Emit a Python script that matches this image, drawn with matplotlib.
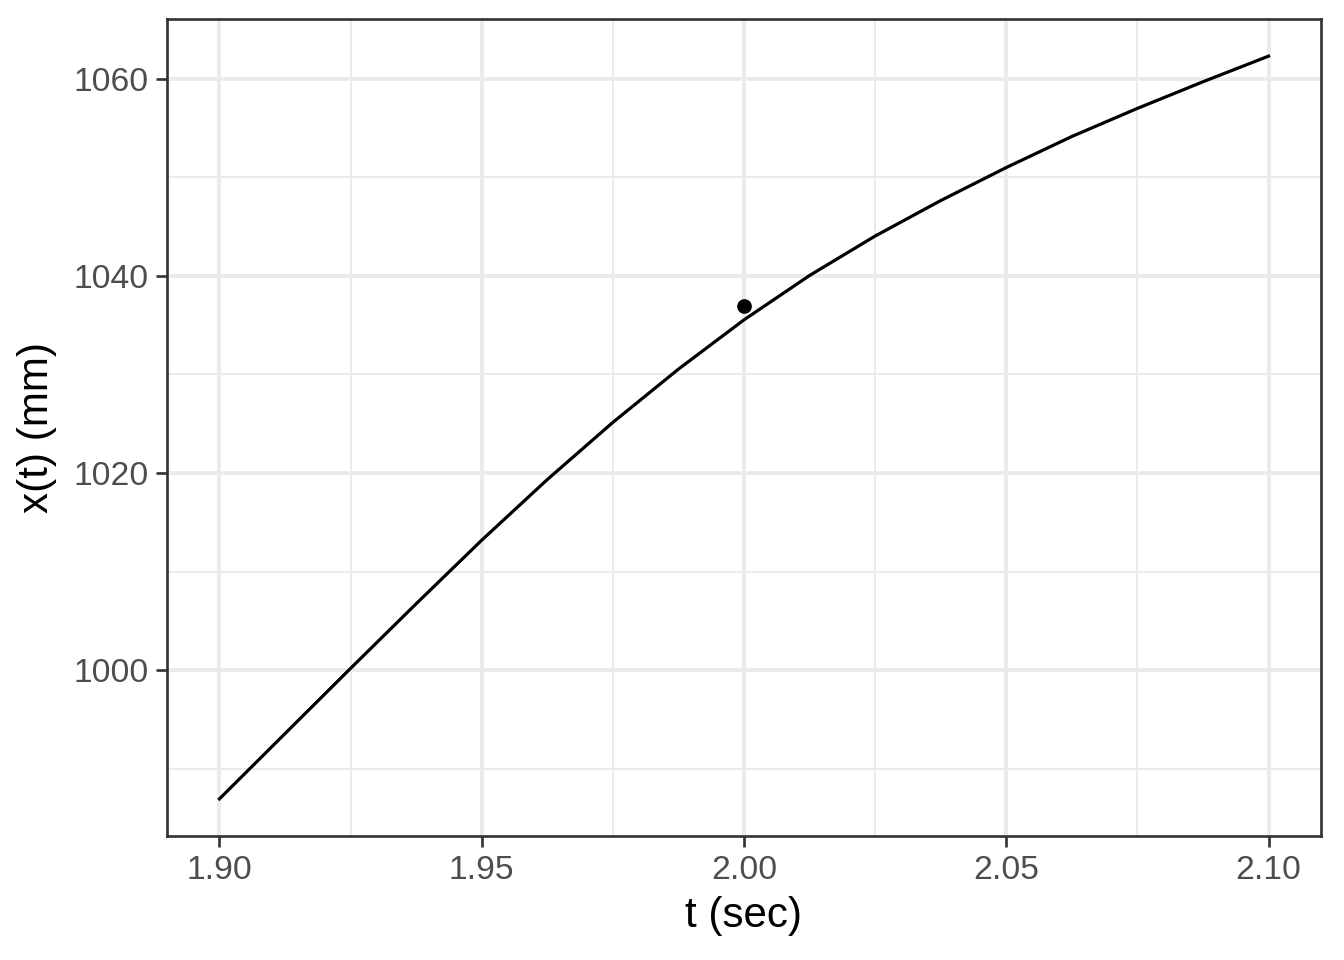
import numpy as np
import matplotlib.pyplot as plt

plt.rcParams['font.family'] = ['Liberation Sans', 'DejaVu Sans']

# courbe x(t)
t_curve = [1.90, 1.9125, 1.925, 1.9375, 1.95, 1.9625, 1.975, 1.9875, 2.00,
           2.0125, 2.025, 2.0375, 2.05, 2.0625, 2.075, 2.0875, 2.10]
x_curve = [986.95, 993.57, 1000.19, 1006.74, 1013.19, 1019.34, 1025.14, 1030.54, 1035.54,
           1040.04, 1044.04, 1047.64, 1050.99, 1054.14, 1056.99, 1059.69, 1062.29]

# point observe
t_point = [2.00]
x_point = [1036.93]

x_ticks = [1.90, 1.95, 2.00, 2.05, 2.10]
x_minor = [1.925, 1.975, 2.025, 2.075]
y_ticks = [1000, 1020, 1040, 1060]
y_minor = [990, 1010, 1030, 1050]

fig = plt.figure(figsize=(7, 5), dpi=192)
ax = fig.add_axes([167 / 1344, 1 - 836 / 960, (1321 - 167) / 1344, (836 - 19) / 960])

grid_col = '#EBEBEB'
for v in x_minor:
    ax.axvline(v, color=grid_col, lw=0.75, zorder=0)
for v in y_minor:
    ax.axhline(v, color=grid_col, lw=0.75, zorder=0)
for v in x_ticks:
    ax.axvline(v, color=grid_col, lw=1.5, zorder=0)
for v in y_ticks:
    ax.axhline(v, color=grid_col, lw=1.5, zorder=0)

ax.plot(t_curve, x_curve, color='black', lw=1.2, zorder=3, solid_joinstyle='round')
ax.plot(t_point, x_point, 'o', color='black', ms=4.5, zorder=4)

xr = max(t_curve) - min(t_curve)
ax.set_xlim(min(t_curve) - 0.05 * xr, max(t_curve) + 0.05 * xr)
ymin, ymax = min(x_curve), max(x_curve)
yr = ymax - ymin
ax.set_ylim(ymin - 0.05 * yr, ymax + 0.05 * yr)

ax.set_xticks(x_ticks)
ax.set_xticklabels([f'{v:.2f}' for v in x_ticks])
ax.set_yticks(y_ticks)
ax.set_yticklabels([str(v) for v in y_ticks])

for s in ax.spines.values():
    s.set_color('#333333')
    s.set_linewidth(1.0)
ax.tick_params(axis='both', colors='#333333', length=4, width=1.0,
               labelsize=12.6, labelcolor='#4D4D4D', pad=3)

ax.set_xlabel('t (sec)', fontsize=15.8, labelpad=4)
ax.set_ylabel('x(t) (mm)', fontsize=15.8, labelpad=6)

plt.savefig('out.png', dpi=192)
plt.close()
